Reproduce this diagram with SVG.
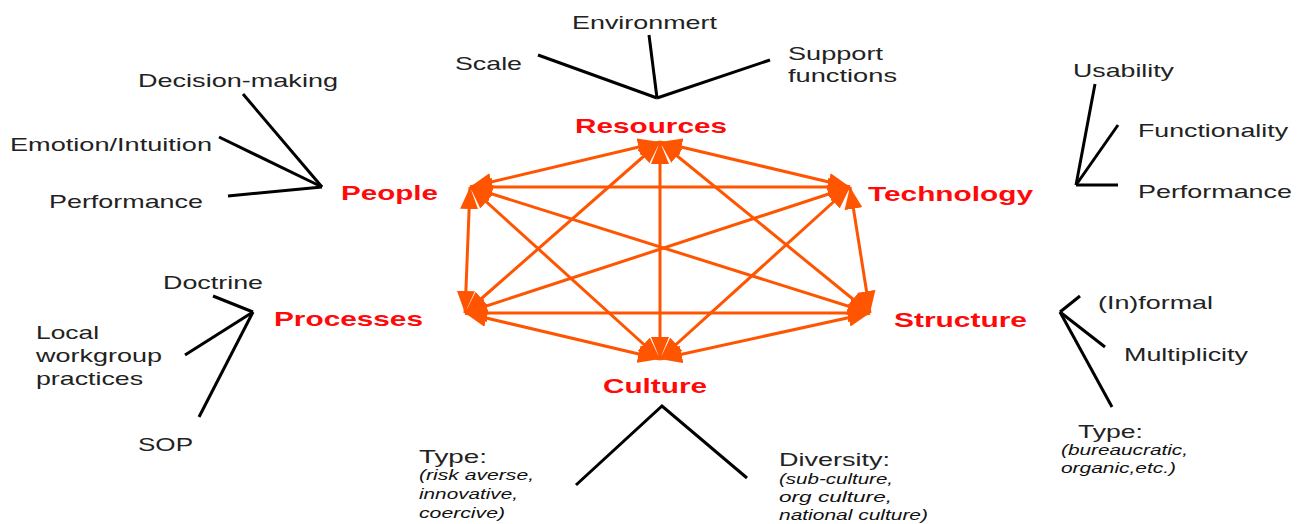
<svg xmlns="http://www.w3.org/2000/svg" width="1304" height="524" viewBox="0 0 1304 524">
<style>
.hub{font-family:"Liberation Sans",Arial,sans-serif;font-weight:bold;font-size:21px;fill:#FF0A0A}
.lbl{font-family:"Liberation Sans",Arial,sans-serif;font-size:19px;fill:#222}
.it{font-family:"Liberation Sans",Arial,sans-serif;font-size:14px;font-style:italic;fill:#111}
.link{stroke:#FF5500;stroke-width:3;fill:none;marker-start:url(#ah);marker-end:url(#ah)}
.spoke{stroke:#000;stroke-width:3;fill:none}
</style>
<defs>
<marker id="ah" viewBox="0 0 22 18" markerWidth="22" markerHeight="18" refX="22" refY="9" orient="auto-start-reverse" markerUnits="userSpaceOnUse">
<path d="M0,0 L22,9 L0,18 z" fill="#FF5500"/>
</marker>
</defs>
<rect width="1304" height="524" fill="#fff"/>
<g id="connectors">
<g id="hexagon">
<line class="link" x1="660" y1="142" x2="850" y2="187"/>
<line class="link" x1="660" y1="142" x2="870" y2="313"/>
<line class="link" x1="660" y1="142" x2="660" y2="359"/>
<line class="link" x1="660" y1="142" x2="465" y2="313"/>
<line class="link" x1="660" y1="142" x2="470" y2="187"/>
<line class="link" x1="850" y1="187" x2="870" y2="313"/>
<line class="link" x1="850" y1="187" x2="660" y2="359"/>
<line class="link" x1="850" y1="187" x2="465" y2="313"/>
<line class="link" x1="850" y1="187" x2="470" y2="187"/>
<line class="link" x1="870" y1="313" x2="660" y2="359"/>
<line class="link" x1="870" y1="313" x2="465" y2="313"/>
<line class="link" x1="870" y1="313" x2="470" y2="187"/>
<line class="link" x1="660" y1="359" x2="465" y2="313"/>
<line class="link" x1="660" y1="359" x2="470" y2="187"/>
<line class="link" x1="465" y1="313" x2="470" y2="187"/>
</g>
<g id="spokes">
<line class="spoke" x1="538" y1="55" x2="657" y2="98"/>
<line class="spoke" x1="649" y1="35" x2="657" y2="98"/>
<line class="spoke" x1="770" y1="60" x2="657" y2="98"/>
<line class="spoke" x1="243" y1="94" x2="322" y2="187"/>
<line class="spoke" x1="219" y1="137" x2="322" y2="187"/>
<line class="spoke" x1="228" y1="196" x2="322" y2="187"/>
<line class="spoke" x1="213" y1="296" x2="253" y2="312"/>
<line class="spoke" x1="185" y1="355" x2="253" y2="312"/>
<line class="spoke" x1="199" y1="417" x2="253" y2="312"/>
<polyline class="spoke" points="576,485 662,406 747,478"/>
<line class="spoke" x1="1095" y1="84" x2="1076" y2="185"/>
<line class="spoke" x1="1118" y1="125" x2="1076" y2="185"/>
<line class="spoke" x1="1118" y1="185" x2="1076" y2="185"/>
<line class="spoke" x1="1080" y1="296" x2="1060" y2="312"/>
<line class="spoke" x1="1105" y1="347" x2="1060" y2="312"/>
<line class="spoke" x1="1112" y1="407" x2="1060" y2="312"/>
</g>
</g>
<g id="resources">
<text class="hub" x="575" y="133" textLength="152" lengthAdjust="spacingAndGlyphs">Resources</text>
<text class="lbl" x="572" y="29" textLength="145" lengthAdjust="spacingAndGlyphs">Environmert</text>
<text class="lbl" x="455" y="70" textLength="67" lengthAdjust="spacingAndGlyphs">Scale</text>
<text class="lbl" x="788" y="60" textLength="95" lengthAdjust="spacingAndGlyphs">Support</text>
<text class="lbl" x="788" y="82" textLength="109" lengthAdjust="spacingAndGlyphs">functions</text>
</g>
<g id="people">
<text class="hub" x="341" y="200" textLength="97" lengthAdjust="spacingAndGlyphs">People</text>
<text class="lbl" x="138" y="87" textLength="200" lengthAdjust="spacingAndGlyphs">Decision-making</text>
<text class="lbl" x="10" y="151" textLength="202" lengthAdjust="spacingAndGlyphs">Emotion/Intuition</text>
<text class="lbl" x="49" y="208" textLength="154" lengthAdjust="spacingAndGlyphs">Performance</text>
</g>
<g id="processes">
<text class="hub" x="274" y="326" textLength="149" lengthAdjust="spacingAndGlyphs">Processes</text>
<text class="lbl" x="163" y="289" textLength="100" lengthAdjust="spacingAndGlyphs">Doctrine</text>
<text class="lbl" x="36" y="339" textLength="63" lengthAdjust="spacingAndGlyphs">Local</text>
<text class="lbl" x="36" y="362" textLength="126" lengthAdjust="spacingAndGlyphs">workgroup</text>
<text class="lbl" x="36" y="385" textLength="107" lengthAdjust="spacingAndGlyphs">practices</text>
<text class="lbl" x="138" y="451" textLength="55" lengthAdjust="spacingAndGlyphs">SOP</text>
</g>
<g id="culture">
<text class="hub" x="603" y="393" textLength="104" lengthAdjust="spacingAndGlyphs">Culture</text>
<text class="lbl" x="419" y="463" textLength="68" lengthAdjust="spacingAndGlyphs">Type:</text>
<text class="it" x="419" y="480" textLength="115" lengthAdjust="spacingAndGlyphs">(risk averse,</text>
<text class="it" x="419" y="499" textLength="99" lengthAdjust="spacingAndGlyphs">innovative,</text>
<text class="it" x="419" y="518" textLength="86" lengthAdjust="spacingAndGlyphs">coercive)</text>
<text class="lbl" x="779" y="466" textLength="111" lengthAdjust="spacingAndGlyphs">Diversity:</text>
<text class="it" x="779" y="484" textLength="114" lengthAdjust="spacingAndGlyphs">(sub-culture,</text>
<text class="it" x="779" y="502" textLength="113" lengthAdjust="spacingAndGlyphs">org culture,</text>
<text class="it" x="779" y="520" textLength="149" lengthAdjust="spacingAndGlyphs">national culture)</text>
</g>
<g id="technology">
<text class="hub" x="868" y="201" textLength="165" lengthAdjust="spacingAndGlyphs">Technology</text>
<text class="lbl" x="1073" y="77" textLength="101" lengthAdjust="spacingAndGlyphs">Usability</text>
<text class="lbl" x="1138" y="137" textLength="150" lengthAdjust="spacingAndGlyphs">Functionality</text>
<text class="lbl" x="1138" y="198" textLength="154" lengthAdjust="spacingAndGlyphs">Performance</text>
</g>
<g id="structure">
<text class="hub" x="894" y="327" textLength="133" lengthAdjust="spacingAndGlyphs">Structure</text>
<text class="lbl" x="1098" y="309" textLength="115" lengthAdjust="spacingAndGlyphs">(In)formal</text>
<text class="lbl" x="1124" y="361" textLength="124" lengthAdjust="spacingAndGlyphs">Multiplicity</text>
<text class="lbl" x="1078" y="438" textLength="65" lengthAdjust="spacingAndGlyphs">Type:</text>
<text class="it" x="1061" y="455" textLength="127" lengthAdjust="spacingAndGlyphs">(bureaucratic,</text>
<text class="it" x="1061" y="473" textLength="115" lengthAdjust="spacingAndGlyphs">organic,etc.)</text>
</g>
</svg>
